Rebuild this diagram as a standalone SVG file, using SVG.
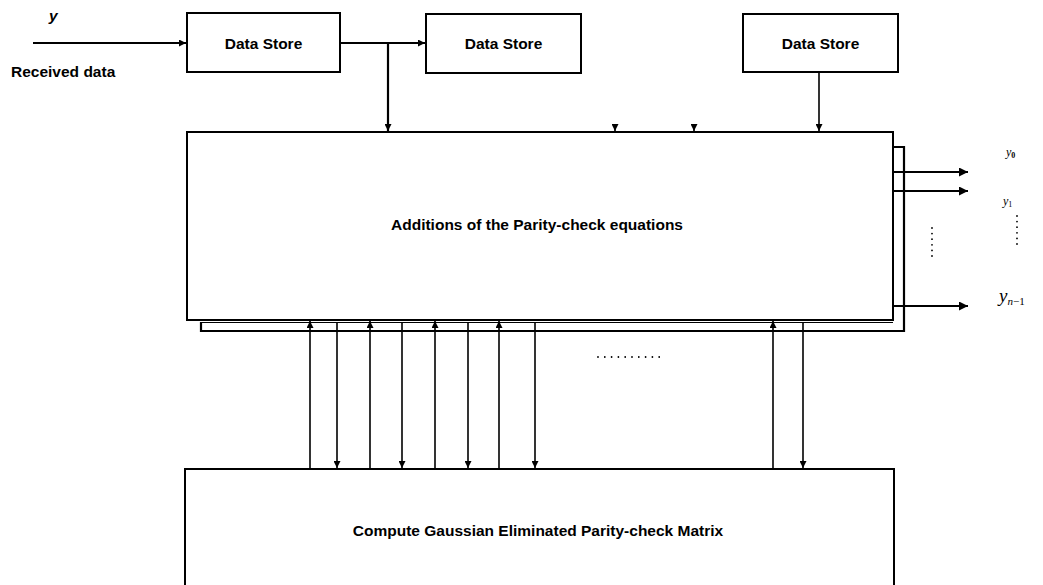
<svg xmlns="http://www.w3.org/2000/svg" width="1043" height="585" viewBox="0 0 1043 585">
  <style>
    .box { fill: #ffffff; stroke: #000000; stroke-width: 2; }
    .lbl { font-family: "Liberation Sans", Arial, sans-serif; font-weight: bold; font-size: 15.5px; fill: #000000; }
    .sym { font-family: "Liberation Serif", "Times New Roman", serif; font-style: italic; fill: #000000; }
    .wire { fill: none; stroke: #000000; stroke-width: 1.6; }
    .thick { fill: none; stroke: #000000; stroke-width: 2.2; }
    .dots { fill: none; stroke: #000000; stroke-width: 1.8; stroke-linecap: round; stroke-dasharray: 0 5.6; }
  </style>
  <defs>
    <marker id="arr" viewBox="0 0 8 8" refX="8" refY="4" markerWidth="7" markerHeight="7" markerUnits="userSpaceOnUse" orient="auto">
      <path d="M0,0 L8,4 L0,8 z" fill="#000000"/>
    </marker>
    <marker id="arrBig" viewBox="0 0 8 8" refX="8" refY="4" markerWidth="9" markerHeight="9" markerUnits="userSpaceOnUse" orient="auto">
      <path d="M0,0 L8,4 L0,8 z" fill="#000000"/>
    </marker>
  </defs>
  <rect width="1043" height="585" fill="#ffffff"/>

  <g id="input-label">
    <text class="lbl" x="49" y="21" style="font-style:italic">y</text>
    <text class="lbl" x="11" y="77">Received data</text>
  </g>

  <g id="ds1">
    <rect class="box" x="187" y="13" width="153" height="59"/>
    <text class="lbl" x="263.5" y="48.5" text-anchor="middle">Data Store</text>
  </g>
  <g id="ds2">
    <rect class="box" x="426" y="14" width="155" height="59"/>
    <text class="lbl" x="503.5" y="49" text-anchor="middle">Data Store</text>
  </g>
  <g id="ds3">
    <rect class="box" x="743" y="14" width="155" height="58"/>
    <text class="lbl" x="820.5" y="49" text-anchor="middle">Data Store</text>
  </g>

  <g id="main">
    <rect class="box" x="187" y="132" width="706" height="188"/>
    <text class="lbl" x="537" y="230" text-anchor="middle">Additions of the Parity-check equations</text>
  </g>

  <g id="gauss">
    <path class="box" d="M185,592 V469 H894 V592"/>
    <text class="lbl" x="538" y="536" text-anchor="middle">Compute Gaussian Eliminated Parity-check Matrix</text>
  </g>

  <g id="outputs">
    <text class="sym" x="1006" y="156" font-size="12">y<tspan font-size="8" font-style="normal" font-weight="bold" dy="2">0</tspan></text>
    <text class="sym" x="1003" y="205" font-size="12">y<tspan font-size="8" font-style="normal" dy="2">1</tspan></text>
    <text class="sym" x="999" y="302" font-size="19">y<tspan font-size="11" dy="3">n</tspan><tspan font-size="11" font-style="normal">−1</tspan></text>
  </g>

  <g id="connectors">
    <!-- input and data store chain -->
    <line class="thick" x1="33" y1="43" x2="186" y2="43" marker-end="url(#arr)"/>
    <line class="thick" x1="340" y1="43" x2="425" y2="43" marker-end="url(#arr)"/>
    <line class="thick" x1="388" y1="43" x2="388" y2="131" marker-end="url(#arr)"/>
    <line class="wire" x1="819" y1="72" x2="819" y2="131" marker-end="url(#arr)"/>
    <line class="wire" x1="615" y1="124" x2="615" y2="131" marker-end="url(#arr)"/>
    <line class="wire" x1="694" y1="124" x2="694" y2="131" marker-end="url(#arr)"/>

    <!-- bus around the main block -->
    <path class="thick" d="M893,147 H904 V331 H201 V322"/>
    <line class="wire" x1="201" y1="322.5" x2="893" y2="322.5" style="stroke-width:1.2"/>

    <!-- outputs -->
    <line class="thick" x1="893" y1="172" x2="968" y2="172" marker-end="url(#arrBig)"/>
    <line class="thick" x1="893" y1="191" x2="968" y2="191" marker-end="url(#arrBig)"/>
    <line class="thick" x1="893" y1="306" x2="968" y2="306" marker-end="url(#arrBig)"/>
    <line class="dots" x1="932" y1="228" x2="932" y2="260"/>
    <line class="dots" x1="1017" y1="216" x2="1017" y2="246"/>

    <!-- links between the two blocks -->
    <line class="wire" x1="310" y1="469" x2="310" y2="321" marker-end="url(#arr)"/>
    <line class="wire" x1="337" y1="322" x2="337" y2="468" marker-end="url(#arr)"/>
    <line class="wire" x1="370" y1="469" x2="370" y2="321" marker-end="url(#arr)"/>
    <line class="wire" x1="402" y1="322" x2="402" y2="468" marker-end="url(#arr)"/>
    <line class="wire" x1="435" y1="469" x2="435" y2="321" marker-end="url(#arr)"/>
    <line class="wire" x1="468" y1="322" x2="468" y2="468" marker-end="url(#arr)"/>
    <line class="wire" x1="499" y1="469" x2="499" y2="321" marker-end="url(#arr)"/>
    <line class="wire" x1="535" y1="322" x2="535" y2="468" marker-end="url(#arr)"/>
    <line class="wire" x1="773" y1="469" x2="773" y2="321" marker-end="url(#arr)"/>
    <line class="wire" x1="803" y1="322" x2="803" y2="468" marker-end="url(#arr)"/>
    <line class="dots" x1="598" y1="357" x2="666" y2="357" style="stroke-dasharray:0 6.8"/>
  </g>
</svg>
